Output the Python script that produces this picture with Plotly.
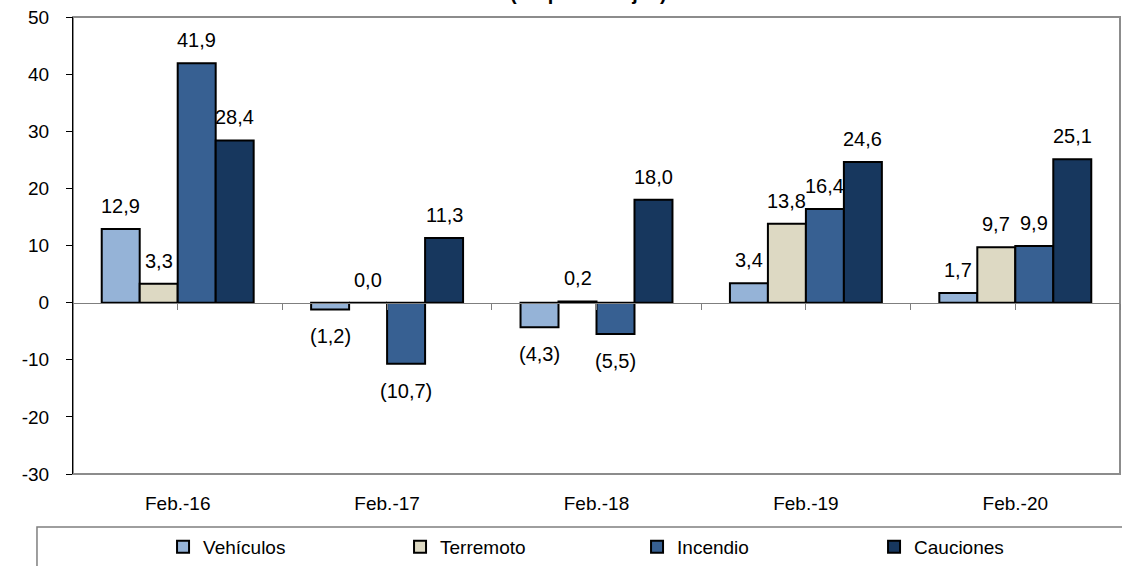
import plotly.graph_objects as go

categories = ["Feb.-16", "Feb.-17", "Feb.-18", "Feb.-19", "Feb.-20"]
series_names = ["Vehículos", "Terremoto", "Incendio", "Cauciones"]
vehiculos = [12.9, -1.2, -4.3, 3.4, 1.7]
terremoto = [3.3, 0.0, 0.2, 13.8, 9.7]
incendio = [41.9, -10.7, -5.5, 16.4, 9.9]
cauciones = [28.4, 11.3, 18.0, 24.6, 25.1]
y_ticks = [-30, -20, -10, 0, 10, 20, 30, 40, 50]

series = [vehiculos, terremoto, incendio, cauciones]
colors = ["#95B3D7", "#DDD9C3", "#376092", "#17375E"]
FONT = "Liberation Sans Narrow, Arial Narrow, Liberation Sans, Arial"

bargap = 0.2744
bar_w = (1 - bargap) / len(series)
xs = list(range(len(categories)))


def fmt(v):
    s = f"{abs(v):.1f}".replace(".", ",")
    return f"({s})" if v < 0 else s


fig = go.Figure()
annotations = []
for k, (name, vals, col) in enumerate(zip(series_names, series, colors)):
    fig.add_trace(go.Bar(
        x=xs, y=vals, name=name,
        marker=dict(color=col, line=dict(color="black", width=2)),
    ))
    for i, v in zip(xs, vals):
        annotations.append(dict(
            x=i - (1 - bargap) / 2 + (k + 0.5) * bar_w, y=v,
            xref="x", yref="y", text=fmt(v), showarrow=False,
            yanchor="bottom" if v >= 0 else "top",
            yshift=10 if v >= 0 else -14,
            font=dict(family=FONT, size=20, color="black"),
        ))

# title is cut off at the top edge in the original
annotations.append(dict(
    x=0.492, y=1.024, xref="paper", yref="paper", yanchor="bottom",
    text="<b>(En porcentajes)</b>", showarrow=False,
    font=dict(family=FONT, size=20, color="black"),
))

fig.update_layout(
    width=1122, height=566,
    margin=dict(l=73, r=2, t=17, b=92, autoexpand=False),
    plot_bgcolor="white", paper_bgcolor="white",
    barmode="group", bargap=bargap, bargroupgap=0,
    font=dict(family=FONT, size=19, color="black"),
    annotations=annotations,
    showlegend=True,
    legend=dict(
        orientation="h", x=0.086, y=-0.118, xanchor="left", yanchor="top",
        entrywidth=192, font=dict(family=FONT, size=19),
        bgcolor="rgba(0,0,0,0)",
    ),
    xaxis=dict(
        range=[-0.5, 4.5], tickvals=xs, ticktext=categories,
        showline=False, ticks="", showgrid=False, zeroline=False,
        ticklabelstandoff=16,
    ),
    xaxis2=dict(
        overlaying="x", anchor="free", position=30 / 80, side="bottom",
        range=[-0.5, 4.5], tickvals=[i / 2 - 0.5 for i in range(11)],
        showticklabels=False, showline=True, linecolor="#7F7F7F", linewidth=1,
        ticks="outside", ticklen=6, tickcolor="#7F7F7F", showgrid=False,
        zeroline=False,
    ),
    yaxis=dict(
        range=[-30, 50], tickvals=y_ticks, ticktext=[str(v) for v in y_ticks],
        showgrid=False, zeroline=False,
        showline=True, linecolor="black", linewidth=1,
        ticks="outside", ticklen=6, tickcolor="black", ticklabelstandoff=13,
    ),
    shapes=[
        dict(type="rect", xref="paper", yref="paper", x0=0, x1=1, y0=0, y1=1,
             line=dict(color="#8C8C8C", width=2), layer="below"),
        dict(type="rect", xref="paper", yref="paper", x0=-0.0344, x1=1.2,
             y0=-0.116, y1=-0.4, line=dict(color="#7F7F7F", width=1.5)),
    ],
)
# invisible trace so that xaxis2 is drawn
fig.add_trace(go.Scatter(x=[0], y=[0], xaxis="x2", mode="markers",
                         marker=dict(opacity=0), showlegend=False,
                         hoverinfo="skip"))

fig.write_html("out.html", config={"displayModeBar": False},
               post_script="document.body.style.margin = '0';")
